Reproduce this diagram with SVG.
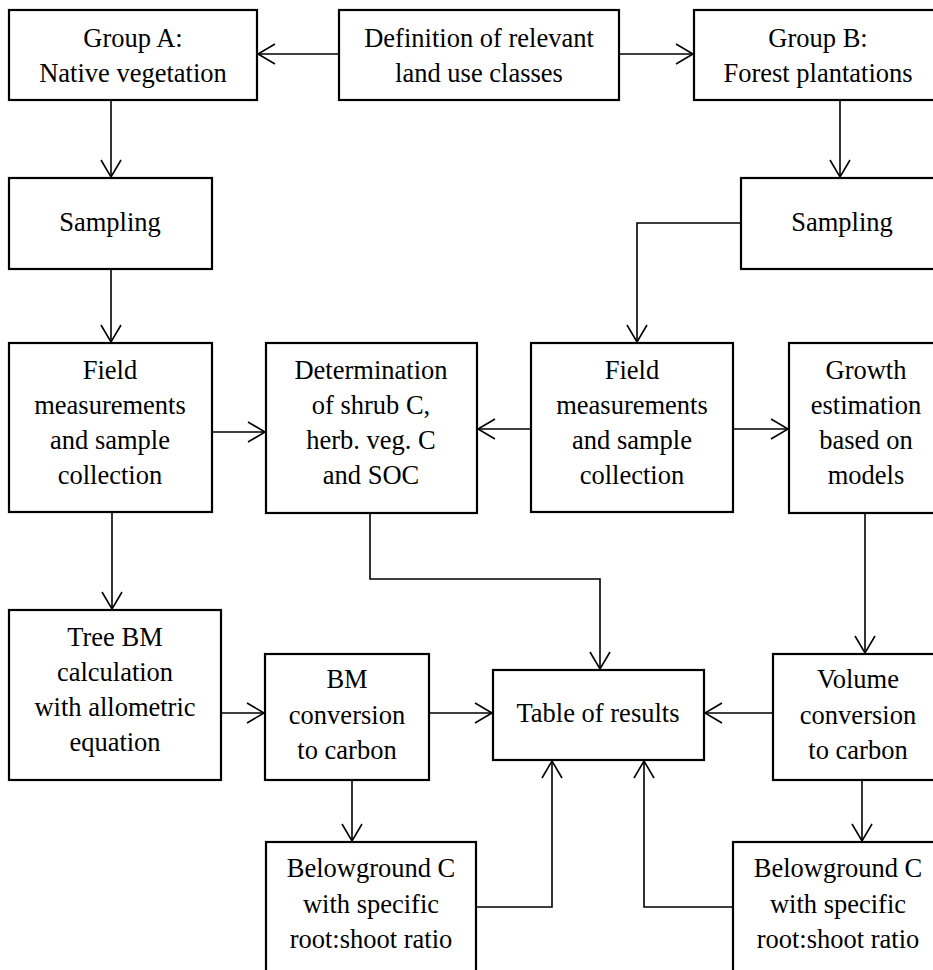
<svg xmlns="http://www.w3.org/2000/svg" width="933" height="970" viewBox="0 0 933 970">
<style>
.box{fill:#fff;stroke:#000;stroke-width:2.2}
.t{font-family:'Liberation Serif', 'Times New Roman', Times, serif;font-size:26.5px;fill:#000;text-anchor:middle}
.c{fill:none;stroke:#000;stroke-width:1.6;marker-end:url(#ah)}
</style>
<defs>
<marker id="ah" markerUnits="userSpaceOnUse" markerWidth="24" markerHeight="24" viewBox="-20 -12 24 24" refX="0" refY="0" orient="auto">
<path d="M-17,-10 L0,0 L-17,10" fill="none" stroke="#000" stroke-width="1.6"/>
</marker>
</defs>
<rect width="933" height="970" fill="#fff"/>
<g id="connectors">
<path class="c" d="M339,54 H258"/>
<path class="c" d="M619,54 H693"/>
<path class="c" d="M111,100 V177"/>
<path class="c" d="M840,100 V177"/>
<path class="c" d="M111,269 V342"/>
<path class="c" d="M741,223 H637 V342"/>
<path class="c" d="M212,432 H265"/>
<path class="c" d="M531,429 H478"/>
<path class="c" d="M733,429 H788"/>
<path class="c" d="M112,512 V609"/>
<path class="c" d="M370,513 V579 H600 V669"/>
<path class="c" d="M865,513 V653"/>
<path class="c" d="M221,713 H264"/>
<path class="c" d="M429,713 H492"/>
<path class="c" d="M773,713 H705"/>
<path class="c" d="M352,780 V841"/>
<path class="c" d="M862,780 V841"/>
<path class="c" d="M476,907 H552 V761"/>
<path class="c" d="M733,907 H644 V761"/>
</g>
<g font-family="Liberation Serif, serif" font-size="26.5" text-anchor="middle" fill="#000">
<g id="groupA"><rect class="box" x="9" y="10" width="248" height="90"/><text x="133" y="47">Group A:</text><text x="133" y="82">Native vegetation</text></g>
<g id="definition"><rect class="box" x="339" y="10" width="280" height="90"/><text x="479" y="47">Definition of relevant</text><text x="479" y="82">land use classes</text></g>
<g id="groupB"><rect class="box" x="694" y="10" width="248" height="90"/><text x="818" y="47">Group B:</text><text x="818" y="82">Forest plantations</text></g>
<g id="samplingA"><rect class="box" x="9" y="178" width="203" height="91"/><text x="110" y="231">Sampling</text></g>
<g id="samplingB"><rect class="box" x="741" y="178" width="202" height="91"/><text x="842" y="231">Sampling</text></g>
<g id="fieldA"><rect class="box" x="9" y="343" width="203" height="169"/><text x="110" y="379">Field</text><text x="110" y="414">measurements</text><text x="110" y="449">and sample</text><text x="110" y="484">collection</text></g>
<g id="determination"><rect class="box" x="266" y="343" width="211" height="170"/><text x="371" y="379">Determination</text><text x="371" y="414">of shrub C,</text><text x="371" y="449">herb. veg. C</text><text x="371" y="484">and SOC</text></g>
<g id="fieldB"><rect class="box" x="531" y="343" width="202" height="169"/><text x="632" y="379">Field</text><text x="632" y="414">measurements</text><text x="632" y="449">and sample</text><text x="632" y="484">collection</text></g>
<g id="growth"><rect class="box" x="789" y="343" width="155" height="170"/><text x="866" y="379">Growth</text><text x="866" y="414">estimation</text><text x="866" y="449">based on</text><text x="866" y="484">models</text></g>
<g id="treeBM"><rect class="box" x="9" y="610" width="212" height="170"/><text x="115" y="646">Tree BM</text><text x="115" y="681">calculation</text><text x="115" y="716">with allometric</text><text x="115" y="751">equation</text></g>
<g id="bmConversion"><rect class="box" x="265" y="654" width="164" height="126"/><text x="347" y="688">BM</text><text x="347" y="724">conversion</text><text x="347" y="759">to carbon</text></g>
<g id="table"><rect class="box" x="493" y="670" width="211" height="90"/><text x="598" y="722">Table of results</text></g>
<g id="volume"><rect class="box" x="773" y="654" width="170" height="126"/><text x="858" y="688">Volume</text><text x="858" y="724">conversion</text><text x="858" y="759">to carbon</text></g>
<g id="belowA"><rect class="box" x="266" y="842" width="210" height="145"/><text x="371" y="877">Belowground C</text><text x="371" y="913">with specific</text><text x="371" y="948">root:shoot ratio</text></g>
<g id="belowB"><rect class="box" x="733" y="842" width="210" height="145"/><text x="838" y="877">Belowground C</text><text x="838" y="913">with specific</text><text x="838" y="948">root:shoot ratio</text></g>
</g>
</svg>
